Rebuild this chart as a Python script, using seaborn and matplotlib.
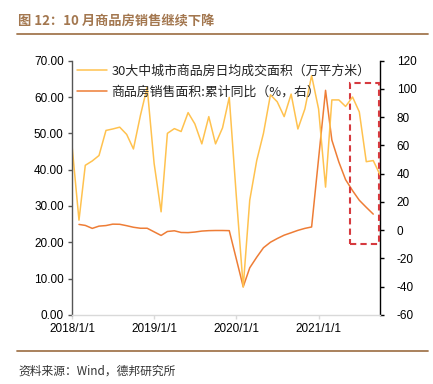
import numpy as np
import pandas as pd
import matplotlib
matplotlib.use("Agg")
import matplotlib.pyplot as plt
import matplotlib.dates as mdates
from matplotlib.patches import Rectangle
import seaborn as sns

# ---------------- data ----------------
months = pd.date_range("2018-01-01", "2021-10-01", freq="MS")

# 30大中城市商品房日均成交面积（万平方米） - left axis
area_daily = [
    46.7, 26.1, 41.2, 42.4, 43.9, 50.8, 51.2, 51.7, 49.7, 45.7, 54.9, 62.7,
    41.7, 28.4, 50.0, 51.3, 50.5, 55.7, 52.6, 47.1, 54.6, 47.1, 51.5, 59.9,
    33.0, 7.7, 31.6, 42.5, 50.0, 60.6, 58.7, 54.6, 60.8, 51.2, 56.7, 65.9,
    56.7, 35.2, 59.2, 59.2, 57.4, 60.0, 55.9, 42.2, 42.5, 38.6,
]

# 商品房销售面积:累计同比（%） - right axis (no January value each year)
sales_yoy = [
    np.nan, 4.1, 3.4, 1.3, 2.9, 3.3, 4.3, 4.2, 3.2, 2.1, 1.4, 1.4,
    np.nan, -3.7, -0.9, -0.4, -1.6, -1.7, -1.3, -0.6, -0.3, -0.2, -0.2, -0.3,
    np.nan, -40.0, -26.6, -19.1, -12.4, -8.5, -5.9, -3.5, -1.8, -0.1, 1.3, 2.3,
    np.nan, 99.0, 63.8, 48.3, 35.8, 28.0, 21.2, 16.2, 11.4, np.nan,
]

label_area = "30大中城市商品房日均成交面积（万平方米）"
label_yoy = "商品房销售面积:累计同比（%，右）"
title_text = "图 12：10 月商品房销售继续下降"
source_text = "资料来源：Wind，德邦研究所"

left_ticks = [0, 10, 20, 30, 40, 50, 60, 70]
right_ticks = [-60, -40, -20, 0, 20, 40, 60, 80, 100, 120]
x_tick_dates = ["2018-01-01", "2019-01-01", "2020-01-01", "2021-01-01"]
x_tick_labels = ["2018/1/1", "2019/1/1", "2020/1/1", "2021/1/1"]

# highlight box (annotation, right-axis units)
box_x0, box_x1 = "2021-05-21", "2021-09-25"
box_y0, box_y1 = -9.5, 104.5

df_area = pd.DataFrame({"date": months, "value": area_daily})
df_yoy = pd.DataFrame({"date": months, "value": sales_yoy}).dropna()

# ---------------- style ----------------
sns.set_style("white")
plt.rcParams["font.family"] = ["Liberation Sans", "Noto Sans CJK SC", "DejaVu Sans"]
cjk = ["Noto Sans CJK SC", "DejaVu Sans"]

YELLOW = "#FFC24F"
ORANGE = "#EE7D36"
BROWN = "#A3774F"

fig = plt.figure(figsize=(4.33, 3.84), dpi=100)
ax = fig.add_axes([0.1663, 0.1797, 0.7113, 0.6623])
ax2 = ax.twinx()

sns.lineplot(data=df_area, x="date", y="value", ax=ax, color=YELLOW,
             linewidth=1.1, label=label_area, legend=False)
sns.lineplot(data=df_yoy, x="date", y="value", ax=ax2, color=ORANGE,
             linewidth=1.1, label=label_yoy, legend=False)

ax.set_xlim(pd.Timestamp("2018-01-01"), pd.Timestamp("2021-10-01"))
ax.set_ylim(0, 70)
ax2.set_ylim(-60, 120)
ax.set_yticks(left_ticks)
ax.set_yticklabels([f"{v:.2f}" for v in left_ticks])
ax2.set_yticks(right_ticks)
ax2.set_yticklabels([str(v) for v in right_ticks])
ax.set_xticks([pd.Timestamp(d) for d in x_tick_dates])
ax.set_xticklabels(x_tick_labels)
ax.set_xlabel("")
ax.set_ylabel("")
ax2.set_ylabel("")

for a in (ax, ax2):
    a.spines["top"].set_visible(False)
ax.spines["right"].set_visible(False)
ax2.spines["left"].set_visible(False)
ax2.spines["bottom"].set_visible(False)
ax.spines["left"].set_color("#555555")
ax.spines["left"].set_linewidth(1.0)
ax.spines["bottom"].set_color("#d9d9d9")
ax.spines["bottom"].set_linewidth(1.0)
ax2.spines["right"].set_color("#000000")
ax2.spines["right"].set_linewidth(1.0)

ax.tick_params(axis="y", direction="out", length=3, width=1, color="#555555",
               labelsize=8.5, labelcolor="#000000", pad=3, left=True)
ax.tick_params(axis="x", direction="out", length=3, width=1, color="#d9d9d9",
               labelsize=8.5, labelcolor="#000000", pad=3, bottom=True)
ax2.tick_params(axis="y", direction="out", length=3, width=1, color="#000000",
                labelsize=8.5, labelcolor="#000000", pad=9, right=True)

# highlight box
bx0 = mdates.date2num(pd.Timestamp(box_x0))
bx1 = mdates.date2num(pd.Timestamp(box_x1))
rect = Rectangle((bx0, box_y0), bx1 - bx0, box_y1 - box_y0, fill=False,
                 edgecolor="#D63A3F", linewidth=1.5, linestyle=(0, (3, 2)),
                 clip_on=False, zorder=5)
ax2.add_patch(rect)

# legend
h1, l1 = ax.get_legend_handles_labels()
h2, l2 = ax2.get_legend_handles_labels()
leg = ax.legend(h1 + h2, l1 + l2, loc="upper left", bbox_to_anchor=(0.0, 1.005),
                frameon=False, handlelength=2.3, handletextpad=0.35,
                labelspacing=0.65, borderaxespad=0.0, borderpad=0.4,
                prop={"family": cjk, "size": 9.3})
for t in leg.get_texts():
    t.set_color("#222222")
ax.set_zorder(ax2.get_zorder() + 1)
ax.patch.set_visible(False)

# title and source
fig.text(0.042, 1 - 21 / 384, title_text, fontsize=9.5, fontweight="bold",
         color=BROWN, family=cjk, va="center", ha="left")
fig.add_artist(plt.Line2D([17 / 433, 428 / 433], [1 - 34 / 384, 1 - 34 / 384],
                          color=BROWN, linewidth=1.3))
fig.add_artist(plt.Line2D([17 / 433, 428 / 433], [1 - 350.5 / 384, 1 - 350.5 / 384],
                          color=BROWN, linewidth=1.3))
fig.text(0.042, 1 - 371.5 / 384, source_text, fontsize=8.5, color="#333333",
         family=cjk, va="center", ha="left")

fig.savefig("out.png", dpi=100)
